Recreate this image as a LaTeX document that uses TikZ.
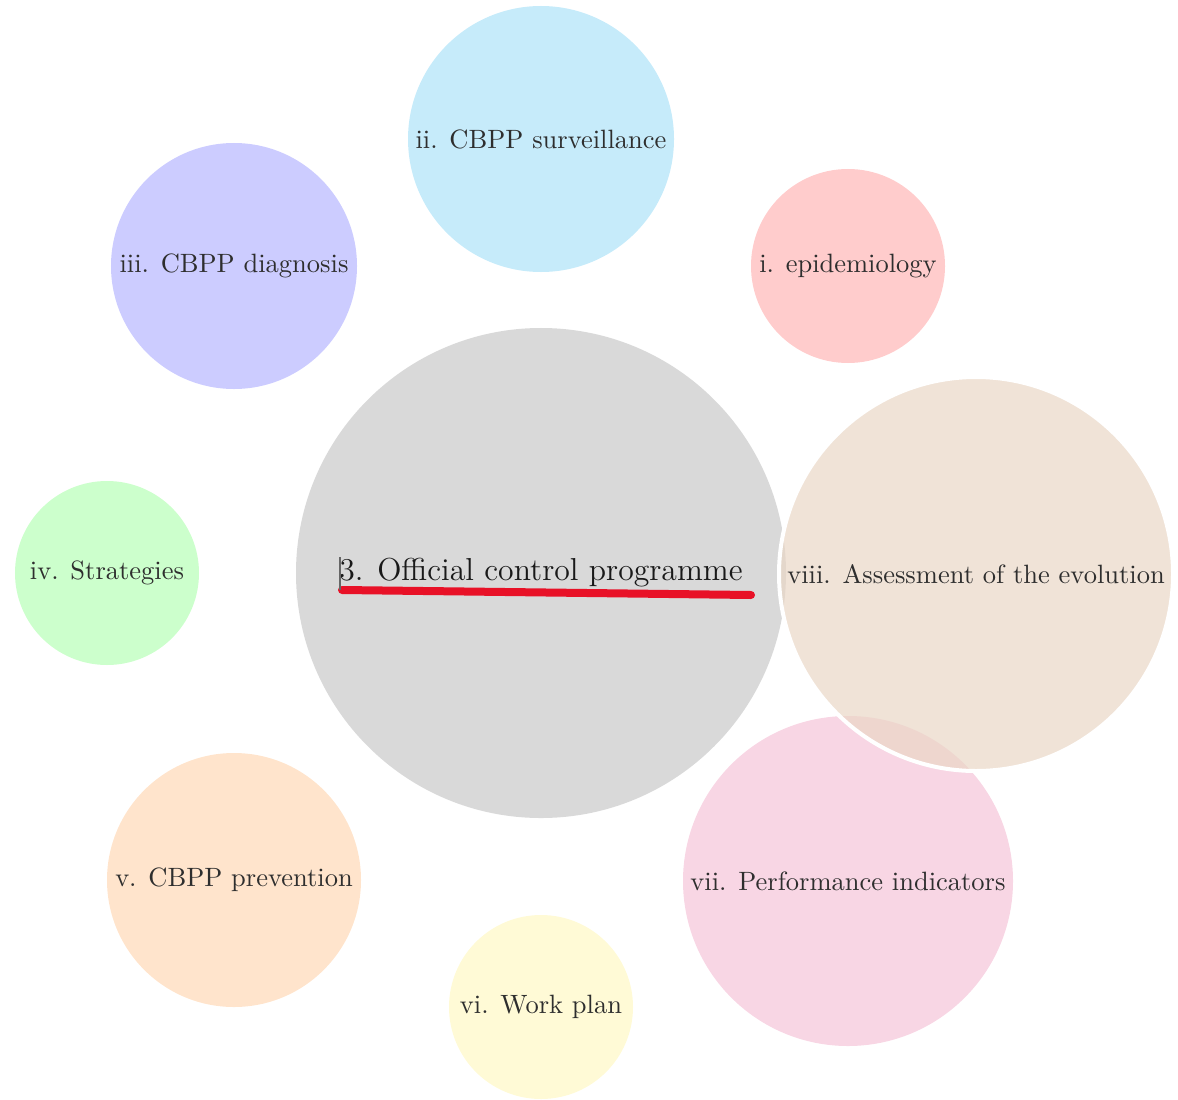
\documentclass[tikz,border=0pt]{standalone}
\definecolor{cCenter}{RGB}{217,217,217}
\definecolor{cOne}{RGB}{255,204,204}
\definecolor{cTwo}{RGB}{198,235,250}
\definecolor{cThree}{RGB}{204,204,255}
\definecolor{cFour}{RGB}{204,255,204}
\definecolor{cFive}{RGB}{255,228,204}
\definecolor{cSix}{RGB}{255,250,214}
\definecolor{cSeven}{RGB}{248,214,228}
\definecolor{cEight}{RGB}{234,215,198}
\definecolor{cRed}{RGB}{232,17,39}
\begin{document}
\begin{tikzpicture}[x=0.4pt,y=-0.4pt,
  bub/.style={circle, inner sep=0pt, minimum size=#1*0.8pt, text=black!82,
    font=\fontsize{10.6}{12}\selectfont},
  bigbub/.style={circle, inner sep=0pt, minimum size=#1*0.8pt, text=black!90,
    font=\fontsize{12.7}{15}\selectfont}]
\useasboundingbox (0,0) rectangle (1178,1099);
\node[bigbub=245, fill=cCenter] (c) at (541,573) {3. Official control programme};
\node[bub=133, fill=cTwo] (ii) at (541,139) {ii. CBPP surveillance};
\node[bub=97, fill=cOne] (i) at (848,266) {i. epidemiology};
\node[bub=123, fill=cThree] (iii) at (234,266) {iii. CBPP diagnosis};
\node[bub=92, fill=cFour] (iv) at (107,573) {iv. Strategies};
\node[bub=127, fill=cFive] (v) at (234,880) {v. CBPP prevention};
\node[bub=92, fill=cSix] (vi) at (541,1007) {vi. Work plan};
\node[bub=165, fill=cSeven] (vii) at (848,881) {vii. Performance indicators};
\node[bub=197, fill=cEight, fill opacity=0.7, text opacity=1, draw=white, line width=1.6pt] (viii) at (976,574) {viii. Assessment of the evolution};
\coordinate (ua) at (342,590);
\coordinate (ub) at (751,595);
\coordinate (ka) at (340,557);
\coordinate (kb) at (340,590);
\draw[cRed, line width=3.2pt, line cap=round] (ua) -- (ub);
\draw[black!60, line width=0.5pt] (ka) -- (kb);
\end{tikzpicture}
\end{document}
